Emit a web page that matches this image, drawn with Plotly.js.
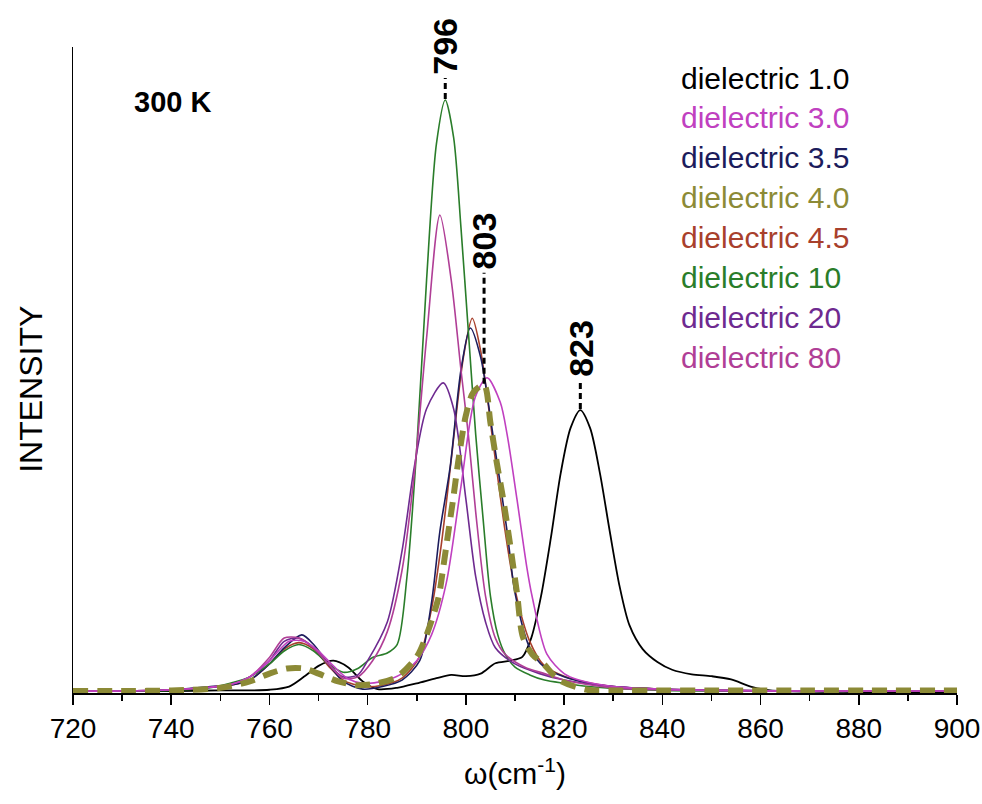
<!DOCTYPE html>
<html>
<head>
<meta charset="utf-8">
<script src="https://cdn.plot.ly/plotly-3.0.1.min.js"></script>
<style>html,body{margin:0;padding:0;background:#fff;}#chart{width:982px;height:804px;}</style>
</head>
<body>
<div id="chart"></div>
<script>
// ---- data ----
const seriesNames = ['dielectric 1.0','dielectric 3.0','dielectric 3.5','dielectric 4.0','dielectric 4.5','dielectric 10','dielectric 20','dielectric 80'];

const x_d1 = [720,730,740,750,756,760,764,767,770,773,776,779,782,786,790,794,797,800,803,806,809,811.5,813.3,815.3,817.3,819.3,821.3,823.3,825.3,827.3,829.3,831.3,833.3,836,839,842,846,850,854,858,862,870,880,890,900];
const y_d1 = [0.3,0.3,0.3,0.4,0.4,0.5,1.0,2.5,4.2,5.0,4.0,1.8,0.6,0.8,1.5,2.3,2.8,2.6,3.0,4.6,5.0,5.6,8.5,15,24,34,41,43.8,41,34,25,16.5,10.5,6.8,4.8,3.6,2.9,2.6,2.1,1.0,0.4,0.2,0.15,0.1,0.1];

const x_d3 = [720,730,740,748,752,756,760,764,767,770,773,776,779,783,787,790,793,796,799,801.9,804.3,807,808.4,810.4,812.4,813.5,816.5,820,823,830,840,850,870,900];
const y_d3 = [0.3,0.3,0.5,0.9,1.3,2.5,5,8,8,6.5,4.2,2.2,1.5,1.8,3,5,9,17,32,45.8,48.8,45,40,30,19.5,14.9,6,3,2,1,0.6,0.4,0.3,0.3];

const x_d35 = [720,730,740,748,752,756,760,763,766.6,769,772,775,779,783,787,790.6,793,794.7,796.8,799,800.9,803,805.5,808.4,810,813,816,820,825,830,840,850,870,900];
const y_d35 = [0.3,0.3,0.5,1.0,1.2,2,4.5,7,9,7.5,4.5,1.8,0.6,1.0,2,5,14,25,35,50,56.5,52,40,25,15.5,7,4,2.5,1.5,1.0,0.6,0.4,0.3,0.3];

const x_d4 = [720,730,740,750,756,760,763.6,767,770,774,778,782,786,790,792,794.4,795.4,796.4,797.4,798.4,800,801.5,803.7,805,806.3,807.6,809,810.4,811.6,813.5,815.7,819,824.7,830,840,850,870,900];
const y_d4 = [0.3,0.3,0.4,0.8,1.8,3,3.8,3.8,3,1.8,1.2,1.5,2.5,5.6,9,14.7,19.5,24.8,30,35.6,43,46.5,47.7,41.8,35.6,30,23,15.5,8.7,6,4.6,2,0.5,0.4,0.4,0.4,0.4,0.4];

const x_d45 = [720,730,740,748,752,756,760,763,766,769,772,775,779,783,787,790.5,793,795,797,799.5,801.3,803,805.5,808,810,813,816,820,825,830,840,850,870,900];
const y_d45 = [0.3,0.3,0.5,0.9,1.2,2,4.5,6.8,7.8,6.8,4.2,2.0,1.0,1.2,2.3,5.5,13,23,36,52,58,53,39,25,16,8,4.2,2.6,1.6,1,0.6,0.4,0.3,0.3];

const x_d10 = [720,730,740,748,752,756,760,763,766,769,772,775,778,781,784,786,788,790,792,794,795.8,797.5,799,800.5,802,803.5,805,806.5,808,810,813,816,820,825,830,840,850,870,900];
const y_d10 = [0.3,0.3,0.4,0.8,1.5,2.5,4.5,6.5,7.5,6.5,4.5,3.2,3.8,5.5,6.2,7.5,18,38,64,85,91.8,86,72,56,40,27,15,9,6,4,2.8,2,1.5,1,0.7,0.4,0.3,0.3,0.3];

const x_d20 = [720,730,740,748,752,756,760,763,766,769,772,775,778,780,784,787,789.5,792,795.4,797.5,800,802,804,806,810,815,820,830,840,850,870,900];
const y_d20 = [0.3,0.3,0.5,0.9,1.3,2.5,5,8,8.5,7,4.5,2.5,2.8,5,11,22,35,44,48,44,30,18,11,7,4.5,3,2,1,0.6,0.4,0.3,0.3];

const x_d80 = [720,730,740,748,752,756,760,763,766,769,772,775,778,781,784,787,789.5,792,794.7,797,799,800.5,802,804,806,808,812,816,820,830,840,850,870,900];
const y_d80 = [0.3,0.3,0.5,0.9,1.3,2.5,5.5,8.5,8.5,7,4.5,2.3,2.5,5,9.5,19,34,55,74,64,50,40,28,15,8.5,6,4,3,2,0.8,0.5,0.4,0.3,0.3];

const peakLabels = ['796','803','823'];
const tempLabel = '300 K';
const yTitle = 'INTENSITY';

// ---- styles ----
const seriesX = [x_d1,x_d3,x_d35,x_d4,x_d45,x_d10,x_d20,x_d80];
const seriesY = [y_d1,y_d3,y_d35,y_d4,y_d45,y_d10,y_d20,y_d80];
const colors = ['#000000','#c040c0','#1c1c5c','#8c8a36','#a8402c','#2a7d2a','#6e2a90','#b03e96'];
const widths = [1.8,1.6,1.6,6,1.6,1.6,1.6,1.6];
const dashes = ['solid','solid','solid','15px,9px','solid','solid','solid','solid'];
const drawOrder = [0,4,2,5,6,7,1,3];
const peakSeriesIdx = [5,3,0];
const leaderPx = [22,112,30];

const FONT = 'Liberation Sans, Arial, sans-serif';

const traces = drawOrder.map(i => ({
  type:'scatter', mode:'lines', name: seriesNames[i],
  x: seriesX[i], y: seriesY[i],
  line:{color:colors[i], width:widths[i], dash:dashes[i], shape:'spline', smoothing:0.8},
  showlegend:false, hoverinfo:'skip'
}));

const shapes = [];
const annotations = [];
peakLabels.forEach((lab,k) => {
  const i = peakSeriesIdx[k];
  const ys = seriesY[i];
  let m = 0; ys.forEach((v,j)=>{ if (v>ys[m]) m=j; });
  const px = seriesX[i][m], py = ys[m];
  shapes.push({type:'line', xref:'x', yref:'y', ysizemode:'pixel', yanchor:py,
    x0:px, x1:px, y0:1, y1:leaderPx[k], line:{color:'#000', width:3, dash:'6px,4px'}});
  annotations.push({x:px, y:py, xref:'x', yref:'y', text:lab, showarrow:false,
    textangle:-90, xanchor:'center', yanchor:'bottom', yshift:leaderPx[k]+1,
    font:{family:FONT, size:34, color:'#000', weight:'bold'}});
});

seriesNames.forEach((n,i) => {
  annotations.push({xref:'paper', yref:'paper', x:0.686, y:0.952 - i*0.0619,
    xanchor:'left', yanchor:'middle', text:n, showarrow:false,
    font:{family:FONT, size:30, color:colors[i]}});
});
annotations.push({xref:'paper', yref:'paper', x:0.067, y:0.915, xanchor:'left', yanchor:'middle',
  text:'<b>'+tempLabel+'</b>', showarrow:false, font:{family:FONT, size:29, color:'#000'}});
annotations.push({xref:'paper', yref:'paper', x:-0.047, y:0.47, xanchor:'center', yanchor:'middle',
  text:yTitle, textangle:-90, showarrow:false, font:{family:FONT, size:32, color:'#000'}});

const layout = {
  width:982, height:804,
  margin:{l:73, r:25, t:47, b:111},
  paper_bgcolor:'#fff', plot_bgcolor:'#fff',
  showlegend:false,
  xaxis:{range:[720,900], tick0:720, dtick:20, ticks:'outside', ticklen:10, tickwidth:1.5, tickcolor:'#000',
    showline:true, linecolor:'#000', linewidth:1.5, showgrid:false, zeroline:false,
    tickfont:{family:FONT, size:28, color:'#000'},
    minor:{dtick:10, ticks:'outside', ticklen:6, tickwidth:1.5, tickcolor:'#000', showgrid:false},
    title:{text:'ω(cm<sup>-1</sup>)', font:{family:FONT, size:30, color:'#000'}, standoff:20}},
  yaxis:{range:[0,100], showline:true, linecolor:'#000', linewidth:1.5, showgrid:false, zeroline:false,
    showticklabels:false, ticks:''},
  shapes:shapes,
  annotations:annotations
};

Plotly.newPlot('chart', traces, layout, {displayModeBar:false, staticPlot:true});
</script>
</body>
</html>
